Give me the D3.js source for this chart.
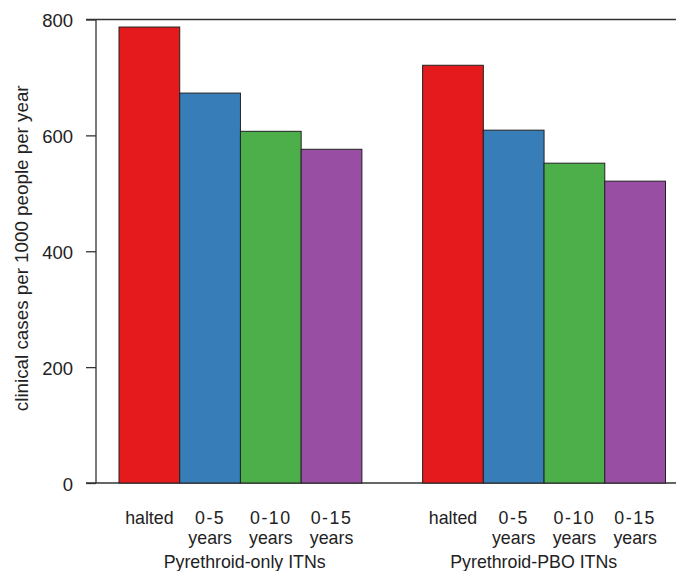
<!DOCTYPE html>
<html>
<head>
<meta charset="utf-8">
<script src="https://cdn.jsdelivr.net/npm/d3@7"></script>
<style>
  body { margin: 0; background: #fff; }
  svg { display: block; font-family: "Liberation Sans", Arial, sans-serif; }
</style>
</head>
<body>
<div id="chart"></div>
<script>
  const groups = ["Pyrethroid-only ITNs", "Pyrethroid-PBO ITNs"];
  const scenarios = ["halted", "0-5 years", "0-10 years", "0-15 years"];
  const colors = ["#e41a1c", "#377eb8", "#4daf4a", "#984ea3"];
  const pyrethroidOnly = [787, 673, 607, 576];
  const pyrethroidPbo = [721, 609, 552, 521];
  const yTicks = [0, 200, 400, 600, 800];

  const width = 676;
  const height = 571;
  const values = [pyrethroidOnly, pyrethroidPbo];
  // where the group names sit, in bar units
  const groupLabelAt = [3.07, 7.83];

  const svg = d3.select("#chart").append("svg")
    .attr("width", width)
    .attr("height", height);

  // bar units: width 1, one empty unit between groups
  const x = d3.scaleLinear().domain([1, 10]).range([119, 665.5]);
  const y = d3.scaleLinear().domain([0, 800]).range([483, 19.5]);

  const bars = [];
  values.forEach((series, g) => {
    series.forEach((v, i) => {
      bars.push({ group: g, index: i, value: v, start: 1 + g * 5 + i });
    });
  });

  // frame lines at top and bottom
  svg.append("line")
    .attr("x1", 86).attr("x2", width)
    .attr("y1", y(800)).attr("y2", y(800))
    .attr("stroke", "#333").attr("stroke-width", 1.3);
  svg.append("line")
    .attr("x1", 86).attr("x2", width)
    .attr("y1", y(0)).attr("y2", y(0))
    .attr("stroke", "#333").attr("stroke-width", 1.3);

  svg.append("g").selectAll("rect")
    .data(bars)
    .join("rect")
    .attr("x", (d) => x(d.start))
    .attr("y", (d) => y(d.value))
    .attr("width", (d) => x(d.start + 1) - x(d.start))
    .attr("height", (d) => y(0) - y(d.value))
    .attr("fill", (d) => colors[d.index])
    .attr("stroke", "#222")
    .attr("stroke-width", 1);

  const yAxis = d3.axisLeft(y)
    .tickValues(yTicks)
    .tickSize(10)
    .tickPadding(13);

  const axisG = svg.append("g")
    .attr("transform", "translate(96,0)")
    .call(yAxis);
  axisG.select(".domain").attr("stroke", "#333").attr("stroke-width", 1.3)
    .attr("d", `M0,${y(0)}V${y(800)}`);
  axisG.selectAll(".tick line").attr("stroke", "#333").attr("stroke-width", 1.3);
  axisG.selectAll(".tick text")
    .attr("font-size", 18.5)
    .attr("dy", "0.4em")
    .attr("fill", "#222")
    .attr("font-family", "Liberation Sans, Arial, sans-serif");

  svg.append("text")
    .attr("transform", `translate(28,${(y(0) + y(800)) / 2 - 3}) rotate(-90)`)
    .attr("text-anchor", "middle")
    .attr("font-size", 18.8)
    .attr("fill", "#222")
    .text("clinical cases per 1000 people per year");

  // category labels under each bar
  const labels = svg.append("g").selectAll("text")
    .data(bars)
    .join("text")
    .attr("text-anchor", "middle")
    .attr("font-size", 17.8)
    .attr("fill", "#222")
    .attr("transform", (d) => `translate(${x(d.start + 0.5)},524)`);
  labels.each(function (d) {
    const parts = scenarios[d.index].split(" ");
    d3.select(this).selectAll("tspan")
      .data(parts)
      .join("tspan")
      .attr("x", 0)
      .attr("y", (p, k) => k * 20)
      .attr("letter-spacing", (p) => (/^\d/.test(p) ? 1.5 : null))
      .text((p) => p);
  });

  svg.append("g").selectAll("text")
    .data(groups)
    .join("text")
    .attr("x", (d, g) => x(groupLabelAt[g]))
    .attr("y", 568)
    .attr("text-anchor", "middle")
    .attr("font-size", 17.8)
    .attr("fill", "#222")
    .text((d) => d);
</script>
</body>
</html>
